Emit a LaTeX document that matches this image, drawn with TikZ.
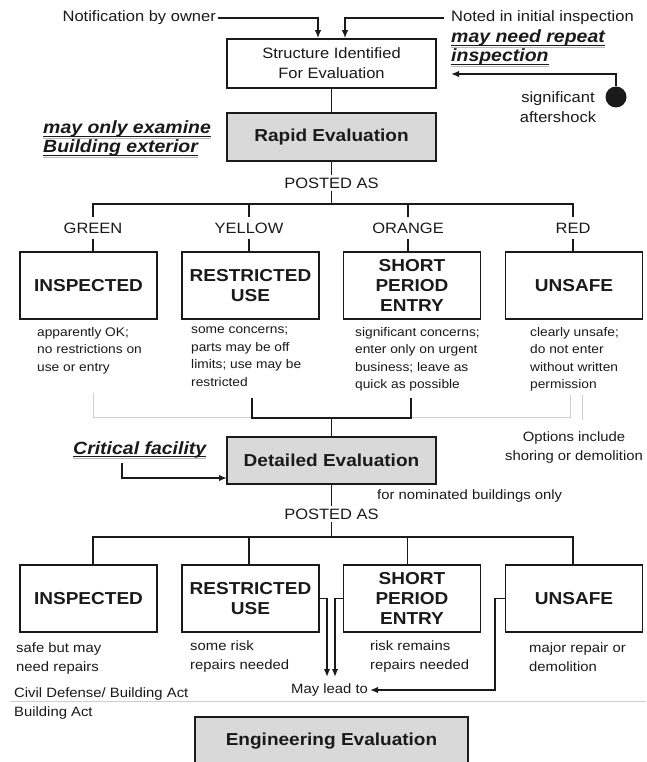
\documentclass[tikz,border=0pt]{standalone}
\usepackage{fontspec}
\setmainfont{Liberation Sans}[FakeStretch=1.1]
\usetikzlibrary{arrows.meta}
\definecolor{boxgray}{HTML}{D9D9D9}
\definecolor{ink}{HTML}{1A1A1A}
\definecolor{lightline}{HTML}{CFCFCF}
\newcommand{\ftop}{\fontsize{15}{20}\selectfont}
\newcommand{\fdescA}{\fontsize{12.5}{17.5}\selectfont}
\newcommand{\fdescB}{\fontsize{13.5}{18.5}\selectfont}
\newcommand{\fbold}{\fontsize{17.3}{20}\selectfont\bfseries}
\newcommand{\fnote}{\fontsize{17.7}{20}\selectfont\bfseries\itshape}
\newcommand{\thickul}[1]{\setbox0=\hbox{#1}\rlap{\color{gray!55}\rule[-5pt]{\wd0}{1.4pt}}\rlap{\rule[-3.4pt]{\wd0}{1.6pt}}\box0}
\tikzset{
  box/.style={draw=ink, line width=1.5pt, minimum width=137pt, minimum height=67pt, inner sep=0pt, align=center, font=\fbold, text=ink},
  evalbox/.style={draw=ink, fill=boxgray, line width=1.5pt, minimum width=209pt, inner sep=0pt, align=center, font=\fbold, text=ink},
  conn/.style={draw=ink, line width=1.8pt},
  arr/.style={conn, -{Latex[length=8pt,width=6.5pt]}},
  txt/.style={inner sep=0pt, text=ink},
  lbl/.style={txt, font=\ftop, outer sep=6pt},
  descA/.style={txt, anchor=north west, align=left, font=\fdescA, execute at begin node=\strut},
  descB/.style={txt, anchor=north west, align=left, font=\fdescB, execute at begin node=\strut},
  faint/.style={draw=lightline, line width=1pt}
}
\begin{document}
\begin{tikzpicture}[x=1pt,y=-1pt]
\useasboundingbox (0,0) rectangle (646,762);
\fill[white] (0,0) rectangle (646,762);

% ---- top ----
\node[txt, font=\ftop, anchor=east] (notif) at (216,18) {Notification by owner};
\node[txt, font=\ftop, anchor=west] (noted) at (451,18) {Noted in initial inspection};
\node[txt, font=\fnote, anchor=base west] (rep1) at (451,43) {\thickul{may need repeat}};
\node[txt, font=\fnote, anchor=base west] (rep2) at (451,62) {\thickul{inspection}};

\node[draw=ink, line width=1.5pt, minimum width=209pt, minimum height=49pt, inner sep=0pt, align=center, font=\ftop, text=ink] (struct) at (331.5,63.5) {Structure Identified\\For Evaluation};

\draw[arr] ([xshift=2pt]notif.east) -| ([xshift=-13.5pt]struct.north);
\draw[arr] ([xshift=-7pt]noted.west) -| ([xshift=13.5pt]struct.north);

\node[circle, fill=ink, minimum size=21pt, inner sep=0pt] (shock) at (616,97) {};
\coordinate (shockin) at (451,74);
\draw[arr] (shock.north) |- (shockin);
\node[txt, font=\ftop, align=center] (shocktxt) at (558,107) {significant\\aftershock};

\node[evalbox, minimum height=48pt] (rapid) at (331.5,137) {Rapid Evaluation};
\draw[conn] (struct) -- (rapid);
\node[txt, font=\fnote, anchor=base west] (only1) at (43,134) {\thickul{may only examine}};
\node[txt, font=\fnote, anchor=base west] (only2) at (43,153) {\thickul{Building exterior}};

\node[txt, font=\ftop, inner sep=2pt] (posted1) at (331.5,183) {POSTED AS};
\draw[conn] (rapid.south) -- (posted1.north);
\coordinate (bar1) at (331.5,204);
\draw[conn] (posted1.south) -- (bar1);

% ---- level 1 ----
\node[lbl] (green) at (93,228) {GREEN};
\node[lbl] (yellow) at (249,228) {YELLOW};
\node[lbl] (orange) at (408,228) {ORANGE};
\node[lbl] (red) at (573,228) {RED};
\draw[conn] (green.north) |- (bar1) -| (red.north);
\draw[conn] (yellow.north) -- (yellow.north |- bar1);
\draw[conn] (orange.north) -- (orange.north |- bar1);

\node[box] (b1) at (88.5,285.5) {INSPECTED};
\node[box] (b2) at (250.5,285.5) {RESTRICTED\\USE};
\node[box] (b3) at (412,285.5) {SHORT\\PERIOD\\ENTRY};
\node[box] (b4) at (574,285.5) {UNSAFE};
\draw[conn] (green.south) -- (green.south |- b1.north);
\draw[conn] (yellow.south) -- (yellow.south |- b2.north);
\draw[conn] (orange.south) -- (orange.south |- b3.north);
\draw[conn] (red.south) -- (red.south |- b4.north);

\node[descA] (d1) at (37,327) {apparently OK;\\no restrictions on\\use or entry};
\node[descA] (d2) at (191,327) {some concerns;\\parts may be off\\limits; use may be\\restricted};
\node[descA] (d3) at (355,327) {significant concerns;\\enter only on urgent\\business; leave as\\quick as possible};
\node[descA] (d4) at (530,327) {clearly unsafe;\\do not enter\\without written\\permission};

% faint bracket
\coordinate (gl) at (93,393);
\coordinate (gm) at (570,417);
\coordinate (gr) at (570,395);
\coordinate (gx1) at (582,395);
\coordinate (gx2) at (582,420);
\draw[faint] (gl) |- (gm) -- (gr);
\draw[faint] (gx1) -- (gx2);

% black bracket
\coordinate (bl) at (252,398);
\coordinate (br) at (411,398);
\coordinate (bm) at (331.5,418);
\draw[conn] (bl) |- (bm) -| (br);

\node[evalbox, minimum height=47pt] (detailed) at (331.5,460.5) {Detailed Evaluation};
\draw[conn] (bm) -- (detailed.north);

\node[txt, font=\fnote, anchor=base west] (crit) at (73,454) {\thickul{Critical facility}};
\coordinate (critout) at (122,463);
\coordinate (critin) at (227,478);
\draw[arr] (critout) |- (critin);

\node[txt, font=\fdescB, align=center] (opts) at (574,447.5) {Options include\\shoring or demolition};
\node[txt, font=\fdescB, anchor=west] (nomin) at (377,496) {for nominated buildings only};

\node[txt, font=\ftop, inner sep=2pt] (posted2) at (331.5,514) {POSTED AS};
\draw[conn] (detailed.south) -- (posted2.north);
\coordinate (bar2) at (331.5,537);
\draw[conn] (posted2.south) -- (bar2);

% ---- level 2 ----
\node[box] (c1) at (88.5,598.5) {INSPECTED};
\node[box] (c2) at (250.5,598.5) {RESTRICTED\\USE};
\node[box] (c3) at (412,598.5) {SHORT\\PERIOD\\ENTRY};
\node[box] (c4) at (574,598.5) {UNSAFE};
\draw[conn] ([xshift=4.5pt]c1.north) |- (bar2) -| ([xshift=-1pt]c4.north);
\draw[conn] ([xshift=-1.5pt]c2.north) -- ++(0,-28);
\draw[conn] ([xshift=-4.5pt]c3.north) -- ++(0,-28);

\node[descB] (e1) at (16,643) {safe but may\\need repairs};
\node[descB] (e2) at (190,641) {some risk\\repairs needed};
\node[descB] (e3) at (370,641) {risk remains\\repairs needed};
\node[descB] (e4) at (529,643) {major repair or\\demolition};

\node[txt, font=\fdescB, anchor=east, outer sep=2pt] (maylead) at (370,690) {May lead to};
\coordinate (lead1) at (327,677);
\coordinate (lead2) at (335,677);
\draw[arr] (c2.east) -| (lead1);
\draw[arr] (c3.west) -| (lead2);
\draw[arr] (c4.west) -- ++(-10,0) |- (maylead.east);

\node[descB, font=\fontsize{13.5}{19}\selectfont] (civil) at (14,688) {Civil Defense/ Building Act\\Building Act};
\coordinate (fl1) at (10,701);
\coordinate (fl2) at (646,701);
\draw[faint, line width=0.8pt] (fl1) -- (fl2);

\node[evalbox, minimum width=273pt, minimum height=48pt] (eng) at (331.5,741) {Engineering Evaluation};
\end{tikzpicture}
\end{document}
